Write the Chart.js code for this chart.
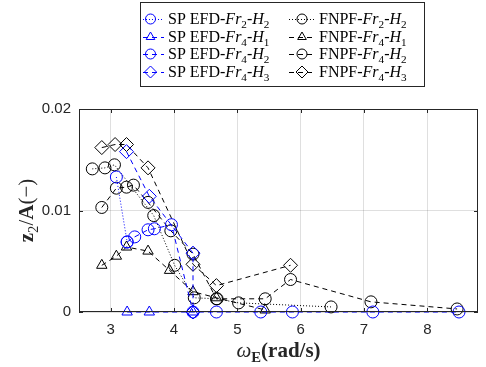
<!DOCTYPE html>
<html>
<head>
<meta charset="utf-8">
<script src="https://cdn.jsdelivr.net/npm/chart.js@4/dist/chart.umd.min.js"></script>
<style>
  html, body { margin: 0; padding: 0; background: #fff; }
  #wrap { width: 486px; height: 367px; position: relative; }
</style>
</head>
<body>
<div id="wrap"><canvas id="myChart"></canvas></div>
<script>
// axis ticks
const xTicks = [3, 4, 5, 6, 7, 8]
const yTicks = [0, 0.01, 0.02]

// SP EFD (experiment), blue
const spFr2H2X = [3.09, 3.26]
const spFr2H2Y = [0.0133, 0.0069]
const spFr4H1X = [3.26, 3.61, 4.30]
const spFr4H1Y = [0, 0, 0]
const spFr4H2X = [3.26, 3.38, 3.59, 3.69, 3.96, 4.30, 4.67, 5.37, 5.87, 7.14, 8.50]
const spFr4H2Y = [0.0069, 0.0074, 0.0081, 0.0082, 0.0086, 0, 0, 0, 0, 0, 0]
const spFr4H3X = [3.25, 3.61, 4.30, 4.30]
const spFr4H3Y = [0.0158, 0.0114, 0.0058, 0]

// FNPF (numerical), black
const fnFr2H2X = [2.71, 2.91, 3.06, 3.68, 4.01, 4.32, 4.68, 5.02, 6.48]
const fnFr2H2Y = [0.0141, 0.0142, 0.0145, 0.0095, 0.0046, 0.0014, 0.0013, 0.0009, 0.0005]
const fnFr4H1X = [2.86, 3.09, 3.25, 3.59, 3.93, 4.30, 4.67, 5.44]
const fnFr4H1Y = [0.0046, 0.0055, 0.0064, 0.0060, 0.0041, 0.0020, 0.0014, 0.0002]
const fnFr4H2X = [2.86, 3.09, 3.25, 3.36, 3.59, 3.95, 4.30, 4.67, 5.44, 5.84, 7.11, 8.47]
const fnFr4H2Y = [0.0103, 0.0122, 0.0123, 0.0125, 0.0108, 0.0080, 0.0057, 0.0013, 0.0013, 0.0032, 0.0010, 0.0003]
const fnFr4H3X = [2.86, 3.07, 3.25, 3.59, 4.30, 4.67, 5.84]
const fnFr4H3Y = [0.0162, 0.0165, 0.0165, 0.0142, 0.0047, 0.0026, 0.0046]

const blue = '#0000ff'
const black = '#000000'
const dotted = [1, 2]
const dashed = [5, 4]
const serif = '"Liberation Serif", "DejaVu Serif", serif'
const sans = '"Liberation Sans", Arial, sans-serif'

function pts(xs, ys) {
  return xs.map((x, i) => ({ x: x, y: ys[i] }))
}

function series(leg, xs, ys, color, dash, marker, r) {
  return {
    data: pts(xs, ys),
    showLine: true,
    clip: false,
    borderColor: color,
    borderWidth: 1,
    borderDash: dash,
    pointStyle: marker,
    pointRadius: r,
    pointHoverRadius: r,
    pointBorderColor: color,
    pointBackgroundColor: 'rgba(0,0,0,0)',
    pointBorderWidth: 1,
    tension: 0,
    // legend pieces: [fr, h, prefix]
    leg: leg
  }
}

const datasets = [
  series(['2', '2', 'SP EFD-'], spFr2H2X, spFr2H2Y, blue, dotted, 'circle', 6),
  series(['4', '1', 'SP EFD-'], spFr4H1X, spFr4H1Y, blue, dashed, 'triangle', 6),
  series(['4', '2', 'SP EFD-'], spFr4H2X, spFr4H2Y, blue, dashed, 'circle', 6),
  series(['4', '3', 'SP EFD-'], spFr4H3X, spFr4H3Y, blue, dashed, 'rectRot', 7),
  series(['2', '2', 'FNPF-'], fnFr2H2X, fnFr2H2Y, black, dotted, 'circle', 6),
  series(['4', '1', 'FNPF-'], fnFr4H1X, fnFr4H1Y, black, dashed, 'triangle', 6),
  series(['4', '2', 'FNPF-'], fnFr4H2X, fnFr4H2Y, black, dashed, 'circle', 6),
  series(['4', '3', 'FNPF-'], fnFr4H3X, fnFr4H3Y, black, dashed, 'rectRot', 7)
]

// text made of pieces: {t, f (font style), sub}
function richWidth(ctx, parts, size) {
  let w = 0
  parts.forEach(p => {
    ctx.font = (p.f || '') + ' ' + (p.sub ? size * 0.7 : size) + 'px ' + serif
    w += ctx.measureText(p.t).width
  })
  return w
}
function drawRich(ctx, parts, x, y, size) {
  ctx.textBaseline = 'alphabetic'
  ctx.textAlign = 'left'
  parts.forEach(p => {
    let s = p.sub ? size * 0.7 : size
    ctx.font = (p.f || '') + ' ' + s + 'px ' + serif
    ctx.fillText(p.t, x, y + (p.sub ? size * 0.25 : 0))
    x += ctx.measureText(p.t).width
  })
}

const decor = {
  id: 'decor',
  afterDraw(chart) {
    const ctx = chart.ctx
    const a = chart.chartArea
    const xs = chart.scales.x
    const ys = chart.scales.y
    ctx.save()
    // box and inward ticks
    ctx.strokeStyle = '#262626'
    ctx.lineWidth = 1
    ctx.setLineDash([])
    ctx.strokeRect(a.left + 0.5, a.top + 0.5, a.right - a.left - 1, a.bottom - a.top - 1)
    ctx.beginPath()
    xTicks.forEach(v => {
      let px = Math.round(xs.getPixelForValue(v)) + 0.5
      ctx.moveTo(px, a.bottom); ctx.lineTo(px, a.bottom - 4)
      ctx.moveTo(px, a.top); ctx.lineTo(px, a.top + 4)
    })
    yTicks.forEach(v => {
      let py = Math.round(ys.getPixelForValue(v)) + 0.5
      ctx.moveTo(a.left, py); ctx.lineTo(a.left + 4, py)
      ctx.moveTo(a.right, py); ctx.lineTo(a.right - 4, py)
    })
    ctx.stroke()

    // axis titles
    ctx.fillStyle = '#262626'
    const xt = [
      { t: 'ω', f: 'italic' }, { t: 'E', f: 'bold', sub: true }, { t: '(rad/s)', f: 'bold' }
    ]
    let w = richWidth(ctx, xt, 21)
    drawRich(ctx, xt, (a.left + a.right) / 2 - w / 2, 357, 21)

    const yt = [
      { t: 'z', f: 'bold' }, { t: '2', f: '', sub: true }, { t: '/', f: '' },
      { t: 'A', f: 'bold' }, { t: '(−)', f: '' }
    ]
    ctx.save()
    ctx.translate(33, (a.top + a.bottom) / 2)
    ctx.rotate(-Math.PI / 2)
    w = richWidth(ctx, yt, 21)
    drawRich(ctx, yt, -w / 2, 0, 21)
    ctx.restore()

    // legend box
    const bx = 140, by = 2, bw = 284, bh = 84
    ctx.fillStyle = '#fff'
    ctx.fillRect(bx, by, bw, bh)
    ctx.strokeStyle = '#262626'
    ctx.strokeRect(bx + 0.5, by + 0.5, bw, bh)
    const rowY = [19, 37, 54, 72]
    const cols = [{ l0: 143, l1: 164, tx: 168 }, { l0: 289, l1: 315, tx: 319 }]
    chart.data.datasets.forEach((ds, i) => {
      const c = cols[Math.floor(i / 4)]
      const y = rowY[i % 4]
      ctx.strokeStyle = ds.borderColor
      ctx.lineWidth = 1
      ctx.setLineDash(ds.borderDash)
      ctx.beginPath()
      ctx.moveTo(c.l0, y + 0.5); ctx.lineTo(c.l1, y + 0.5)
      ctx.stroke()
      ctx.setLineDash([])
      ctx.fillStyle = 'rgba(0,0,0,0)'
      Chart.helpers.drawPoint(ctx, {
        pointStyle: ds.pointStyle, radius: ds.pointRadius - 1, borderWidth: 1, rotation: 0
      }, (c.l0 + c.l1) / 2 + (i < 4 ? -3 : 0), y)
      ctx.fillStyle = '#000'
      const lab = [
        { t: ds.leg[2] }, { t: 'Fr', f: 'italic' }, { t: ds.leg[0], sub: true },
        { t: '-' }, { t: 'H', f: 'italic' }, { t: ds.leg[1], sub: true }
      ]
      drawRich(ctx, lab, c.tx, y + 5, 16)
    })
    ctx.restore()
  }
}

var ctx = document.getElementById('myChart')
var chart = new Chart(ctx, {
  type: 'scatter',
  data: { datasets: datasets },
  options: {
    responsive: true,
    maintainAspectRatio: false,
    animation: false,
    layout: { padding: { top: 109, right: 7, left: 0, bottom: 0 } },
    plugins: { legend: { display: false }, tooltip: { enabled: false } },
    scales: {
      x: {
        type: 'linear',
        min: 2.5,
        max: 8.8,
        afterBuildTicks: s => { s.ticks = xTicks.map(v => ({ value: v })) },
        afterFit: s => { s.height = 55 },
        grid: { color: 'rgba(38,38,38,0.15)', drawTicks: false },
        border: { display: false },
        ticks: { padding: 9, color: '#262626', font: { family: sans, size: 15 } }
      },
      y: {
        type: 'linear',
        min: 0,
        max: 0.02,
        afterBuildTicks: s => { s.ticks = yTicks.map(v => ({ value: v })) },
        afterFit: s => { s.width = 79 },
        grid: { color: 'rgba(38,38,38,0.15)', drawTicks: false },
        border: { display: false },
        ticks: {
          padding: 8, color: '#262626', font: { family: sans, size: 15 },
          callback: v => v === 0 ? '0' : v.toFixed(2)
        }
      }
    }
  },
  plugins: [decor]
})
</script>
</body>
</html>
